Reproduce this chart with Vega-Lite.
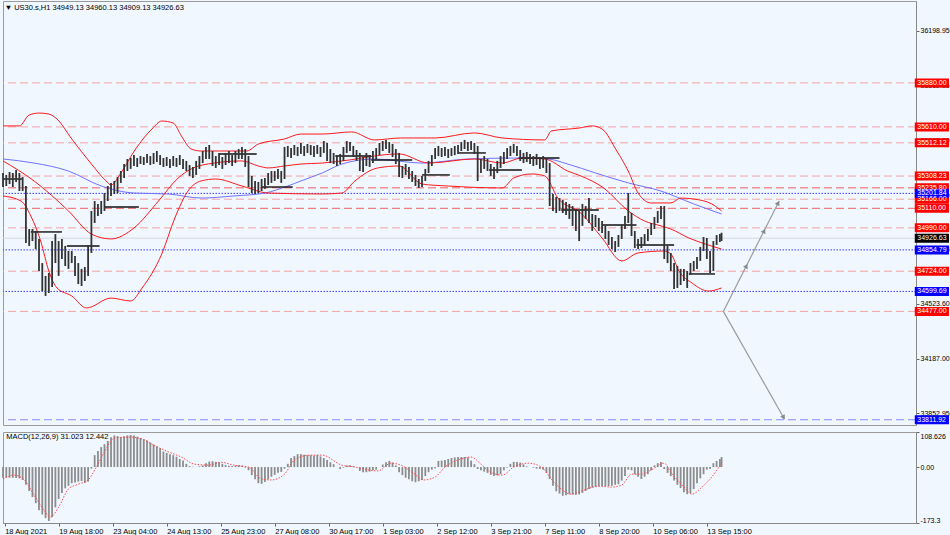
{
"$schema": "https://vega.github.io/schema/vega-lite/v6.json",
"background": "#F0F7FF",
"padding": 0,
"spacing": 5,
"config": {"view": {"stroke": "#9a9a9a"}, "font": "Liberation Sans", "axis": {"labelFont": "Liberation Sans", "labelFontSize": 8, "labelColor": "#000000", "tickColor": "#666666", "domainColor": "#888888", "grid": false, "labelOverlap": false, "labelBound": false}},
"resolve": {"scale": {"x": "independent", "y": "independent"}},
"datasets": {
"bars": [
{"i":0,"h":35327,"l":35241,"m":-33},{"i":2,"h":35315,"l":35247,"m":-33},{"i":4,"h":35333,"l":35259,"m":-33},{"i":6,"h":35327,"l":35241,"m":-33},{"i":8,"h":35345,"l":35272,"m":-34},{"i":10,"h":35327,"l":35216,"m":-35},{"i":12,"h":35302,"l":35216,"m":-40},{"i":14,"h":35247,"l":34897,"m":-55},{"i":16,"h":34983,"l":34879,"m":-74},{"i":18,"h":34983,"l":34909,"m":-93},{"i":20,"h":34971,"l":34860,"m":-112},{"i":22,"h":34922,"l":34725,"m":-134},{"i":24,"h":34774,"l":34602,"m":-147},{"i":26,"h":34695,"l":34572,"m":-158},{"i":28,"h":34713,"l":34590,"m":-167},{"i":30,"h":34909,"l":34627,"m":-155},{"i":32,"h":34952,"l":34774,"m":-125},{"i":34,"h":34909,"l":34695,"m":-99},{"i":36,"h":34922,"l":34799,"m":-80},{"i":38,"h":34879,"l":34756,"m":-66},{"i":40,"h":34848,"l":34738,"m":-58},{"i":42,"h":34848,"l":34774,"m":-50},{"i":44,"h":34817,"l":34695,"m":-48},{"i":46,"h":34774,"l":34645,"m":-45},{"i":48,"h":34738,"l":34633,"m":-43},{"i":50,"h":34750,"l":34664,"m":-49},{"i":52,"h":34885,"l":34695,"m":-45},{"i":54,"h":35094,"l":34836,"m":-5},{"i":56,"h":35155,"l":35020,"m":37},{"i":58,"h":35137,"l":35063,"m":50},{"i":60,"h":35155,"l":35075,"m":62},{"i":62,"h":35204,"l":35094,"m":71},{"i":64,"h":35247,"l":35155,"m":81},{"i":66,"h":35266,"l":35186,"m":92},{"i":68,"h":35278,"l":35198,"m":98},{"i":70,"h":35302,"l":35204,"m":96},{"i":72,"h":35339,"l":35266,"m":93},{"i":74,"h":35382,"l":35296,"m":95},{"i":76,"h":35413,"l":35339,"m":98},{"i":78,"h":35419,"l":35352,"m":99},{"i":80,"h":35437,"l":35370,"m":98},{"i":82,"h":35419,"l":35364,"m":94},{"i":84,"h":35431,"l":35382,"m":90},{"i":86,"h":35425,"l":35376,"m":86},{"i":88,"h":35444,"l":35388,"m":82},{"i":90,"h":35431,"l":35376,"m":76},{"i":92,"h":35450,"l":35382,"m":70},{"i":94,"h":35462,"l":35394,"m":64},{"i":96,"h":35437,"l":35376,"m":58},{"i":98,"h":35419,"l":35364,"m":48},{"i":100,"h":35425,"l":35370,"m":44},{"i":102,"h":35413,"l":35358,"m":40},{"i":104,"h":35431,"l":35370,"m":37},{"i":106,"h":35419,"l":35364,"m":32},{"i":108,"h":35437,"l":35376,"m":25},{"i":110,"h":35413,"l":35352,"m":20},{"i":112,"h":35401,"l":35339,"m":10},{"i":114,"h":35376,"l":35309,"m":3},{"i":116,"h":35364,"l":35296,"m":1},{"i":118,"h":35401,"l":35315,"m":0},{"i":120,"h":35431,"l":35352,"m":2},{"i":122,"h":35462,"l":35388,"m":5},{"i":124,"h":35487,"l":35413,"m":12},{"i":126,"h":35499,"l":35413,"m":17},{"i":128,"h":35462,"l":35370,"m":18},{"i":130,"h":35431,"l":35358,"m":16},{"i":132,"h":35450,"l":35376,"m":15},{"i":134,"h":35425,"l":35352,"m":10},{"i":136,"h":35450,"l":35376,"m":6},{"i":138,"h":35462,"l":35388,"m":4},{"i":140,"h":35437,"l":35370,"m":3},{"i":142,"h":35462,"l":35388,"m":5},{"i":144,"h":35474,"l":35413,"m":6},{"i":146,"h":35487,"l":35413,"m":4},{"i":148,"h":35474,"l":35364,"m":-2},{"i":150,"h":35431,"l":35241,"m":-10},{"i":152,"h":35309,"l":35204,"m":-25},{"i":154,"h":35278,"l":35198,"m":-38},{"i":156,"h":35272,"l":35204,"m":-50},{"i":158,"h":35290,"l":35216,"m":-52},{"i":160,"h":35296,"l":35229,"m":-46},{"i":162,"h":35327,"l":35253,"m":-38},{"i":164,"h":35339,"l":35266,"m":-30},{"i":166,"h":35339,"l":35278,"m":-24},{"i":168,"h":35352,"l":35290,"m":-18},{"i":170,"h":35339,"l":35266,"m":-15},{"i":172,"h":35487,"l":35290,"m":-5},{"i":174,"h":35493,"l":35425,"m":10},{"i":176,"h":35480,"l":35419,"m":28},{"i":178,"h":35499,"l":35437,"m":34},{"i":180,"h":35487,"l":35431,"m":40},{"i":182,"h":35511,"l":35444,"m":40},{"i":184,"h":35493,"l":35431,"m":38},{"i":186,"h":35505,"l":35450,"m":37},{"i":188,"h":35499,"l":35437,"m":37},{"i":190,"h":35493,"l":35425,"m":36},{"i":192,"h":35499,"l":35444,"m":37},{"i":194,"h":35487,"l":35425,"m":33},{"i":196,"h":35523,"l":35450,"m":28},{"i":198,"h":35511,"l":35401,"m":22},{"i":200,"h":35474,"l":35388,"m":15},{"i":202,"h":35450,"l":35382,"m":9},{"i":204,"h":35437,"l":35370,"m":0},{"i":206,"h":35444,"l":35382,"m":-6},{"i":208,"h":35487,"l":35401,"m":-2},{"i":210,"h":35523,"l":35450,"m":5},{"i":212,"h":35517,"l":35462,"m":6},{"i":214,"h":35493,"l":35425,"m":3},{"i":216,"h":35468,"l":35401,"m":0},{"i":218,"h":35450,"l":35339,"m":-12},{"i":220,"h":35425,"l":35333,"m":-16},{"i":222,"h":35450,"l":35370,"m":-16},{"i":224,"h":35437,"l":35364,"m":-14},{"i":226,"h":35462,"l":35388,"m":-10},{"i":228,"h":35480,"l":35413,"m":-8},{"i":230,"h":35511,"l":35437,"m":0},{"i":232,"h":35523,"l":35462,"m":8},{"i":234,"h":35530,"l":35474,"m":15},{"i":236,"h":35517,"l":35450,"m":19},{"i":238,"h":35505,"l":35425,"m":14},{"i":240,"h":35474,"l":35382,"m":5},{"i":242,"h":35450,"l":35302,"m":-16},{"i":244,"h":35370,"l":35296,"m":-25},{"i":246,"h":35382,"l":35315,"m":-33},{"i":248,"h":35364,"l":35290,"m":-38},{"i":250,"h":35339,"l":35272,"m":-44},{"i":252,"h":35315,"l":35247,"m":-47},{"i":254,"h":35290,"l":35235,"m":-44},{"i":256,"h":35309,"l":35241,"m":-40},{"i":258,"h":35352,"l":35278,"m":-28},{"i":260,"h":35401,"l":35327,"m":-16},{"i":262,"h":35437,"l":35370,"m":-8},{"i":264,"h":35480,"l":35413,"m":-4},{"i":266,"h":35493,"l":35431,"m":19},{"i":268,"h":35480,"l":35425,"m":20},{"i":270,"h":35487,"l":35431,"m":22},{"i":272,"h":35474,"l":35419,"m":25},{"i":274,"h":35480,"l":35431,"m":28},{"i":276,"h":35493,"l":35437,"m":30},{"i":278,"h":35499,"l":35444,"m":31},{"i":280,"h":35517,"l":35462,"m":31},{"i":282,"h":35530,"l":35474,"m":31},{"i":284,"h":35517,"l":35462,"m":30},{"i":286,"h":35523,"l":35468,"m":20},{"i":288,"h":35511,"l":35444,"m":9},{"i":290,"h":35493,"l":35278,"m":-6},{"i":292,"h":35413,"l":35327,"m":-10},{"i":294,"h":35431,"l":35352,"m":-14},{"i":296,"h":35413,"l":35339,"m":-18},{"i":298,"h":35382,"l":35309,"m":-24},{"i":300,"h":35364,"l":35290,"m":-28},{"i":302,"h":35401,"l":35327,"m":-26},{"i":304,"h":35431,"l":35358,"m":-22},{"i":306,"h":35456,"l":35382,"m":-10},{"i":308,"h":35480,"l":35413,"m":-2},{"i":310,"h":35493,"l":35431,"m":10},{"i":312,"h":35505,"l":35450,"m":16},{"i":314,"h":35493,"l":35431,"m":16},{"i":316,"h":35468,"l":35401,"m":14},{"i":318,"h":35450,"l":35388,"m":8},{"i":320,"h":35456,"l":35394,"m":2},{"i":322,"h":35444,"l":35382,"m":0},{"i":324,"h":35431,"l":35370,"m":-2},{"i":326,"h":35444,"l":35376,"m":-5},{"i":328,"h":35425,"l":35352,"m":-6},{"i":330,"h":35431,"l":35358,"m":-8},{"i":332,"h":35413,"l":35327,"m":-18},{"i":334,"h":35388,"l":35124,"m":-37},{"i":336,"h":35198,"l":35094,"m":-58},{"i":338,"h":35180,"l":35081,"m":-75},{"i":340,"h":35173,"l":35094,"m":-82},{"i":342,"h":35161,"l":35081,"m":-89},{"i":344,"h":35149,"l":35069,"m":-87},{"i":346,"h":35137,"l":35045,"m":-84},{"i":348,"h":35124,"l":35002,"m":-85},{"i":350,"h":35106,"l":34971,"m":-86},{"i":352,"h":35094,"l":34909,"m":-85},{"i":354,"h":35137,"l":35002,"m":-80},{"i":356,"h":35124,"l":35045,"m":-74},{"i":358,"h":35173,"l":35020,"m":-68},{"i":360,"h":35075,"l":34971,"m":-64},{"i":362,"h":35069,"l":34995,"m":-61},{"i":364,"h":35051,"l":34971,"m":-60},{"i":366,"h":35032,"l":34959,"m":-59},{"i":368,"h":35002,"l":34922,"m":-59},{"i":370,"h":34971,"l":34885,"m":-59},{"i":372,"h":34934,"l":34860,"m":-58},{"i":374,"h":34909,"l":34842,"m":-55},{"i":376,"h":34946,"l":34873,"m":-53},{"i":378,"h":35008,"l":34922,"m":-42},{"i":380,"h":35063,"l":34983,"m":-28},{"i":382,"h":35204,"l":35020,"m":-8},{"i":384,"h":35081,"l":34940,"m":-10},{"i":386,"h":34971,"l":34866,"m":-22},{"i":388,"h":34922,"l":34860,"m":-30},{"i":390,"h":34934,"l":34866,"m":-37},{"i":392,"h":34952,"l":34885,"m":-30},{"i":394,"h":34983,"l":34909,"m":-22},{"i":396,"h":35020,"l":34946,"m":-10},{"i":398,"h":35057,"l":34983,"m":5},{"i":400,"h":35094,"l":35020,"m":12},{"i":402,"h":35124,"l":35045,"m":16},{"i":404,"h":35124,"l":34799,"m":-6},{"i":406,"h":34879,"l":34774,"m":-18},{"i":408,"h":34836,"l":34725,"m":-28},{"i":410,"h":34774,"l":34615,"m":-42},{"i":412,"h":34756,"l":34621,"m":-55},{"i":414,"h":34738,"l":34639,"m":-65},{"i":416,"h":34738,"l":34664,"m":-78},{"i":418,"h":34725,"l":34621,"m":-84},{"i":420,"h":34774,"l":34701,"m":-80},{"i":422,"h":34787,"l":34725,"m":-68},{"i":424,"h":34811,"l":34738,"m":-50},{"i":426,"h":34873,"l":34787,"m":-35},{"i":428,"h":34934,"l":34848,"m":-22},{"i":430,"h":34928,"l":34799,"m":-8},{"i":432,"h":34848,"l":34713,"m":-6},{"i":434,"h":34909,"l":34725,"m":12},{"i":436,"h":34946,"l":34885,"m":19},{"i":438,"h":34952,"l":34903,"m":25},{"i":439,"h":34960.13,"l":34909.13,"m":31.023}
],
"signal": [
{"i":0,"s":-37},{"i":7,"s":-25},{"i":13,"s":-40},{"i":19,"s":-87},{"i":25,"s":-133},{"i":29,"s":-155},{"i":34,"s":-124},{"i":40,"s":-68},{"i":46,"s":-53},{"i":52,"s":-40},{"i":57,"s":0},{"i":62,"s":47},{"i":68,"s":90},{"i":77,"s":93},{"i":85,"s":87},{"i":92,"s":68},{"i":101,"s":47},{"i":109,"s":31},{"i":117,"s":9},{"i":126,"s":6},{"i":133,"s":15},{"i":141,"s":6},{"i":150,"s":0},{"i":158,"s":-37},{"i":164,"s":-40},{"i":172,"s":-22},{"i":178,"s":22},{"i":187,"s":37},{"i":195,"s":37},{"i":207,"s":6},{"i":215,"s":0},{"i":223,"s":-9},{"i":229,"s":-12},{"i":237,"s":12},{"i":243,"s":6},{"i":250,"s":-16},{"i":257,"s":-40},{"i":264,"s":-31},{"i":270,"s":0},{"i":278,"s":22},{"i":286,"s":31},{"i":292,"s":9},{"i":298,"s":-16},{"i":305,"s":-25},{"i":312,"s":0},{"i":321,"s":12},{"i":329,"s":0},{"i":335,"s":-37},{"i":341,"s":-68},{"i":347,"s":-84},{"i":355,"s":-71},{"i":364,"s":-59},{"i":372,"s":-62},{"i":378,"s":-56},{"i":384,"s":-22},{"i":390,"s":-22},{"i":396,"s":-9},{"i":404,"s":12},{"i":408,"s":-16},{"i":416,"s":-62},{"i":421,"s":-84},{"i":427,"s":-62},{"i":433,"s":-31},{"i":439,"s":12.442}
],
"bands": [
{"b":"up","i":0,"v":35616},{"b":"up","i":10,"v":35616},{"b":"up","i":16,"v":35683},{"b":"up","i":22,"v":35695},{"b":"up","i":28,"v":35689},{"b":"up","i":33,"v":35658},{"b":"up","i":42,"v":35536},{"b":"up","i":54,"v":35382},{"b":"up","i":63,"v":35278},{"b":"up","i":66,"v":35253},{"b":"up","i":72,"v":35327},{"b":"up","i":81,"v":35474},{"b":"up","i":91,"v":35597},{"b":"up","i":97,"v":35646},{"b":"up","i":104,"v":35634},{"b":"up","i":109,"v":35554},{"b":"up","i":115,"v":35474},{"b":"up","i":121,"v":35462},{"b":"up","i":133,"v":35462},{"b":"up","i":149,"v":35462},{"b":"up","i":156,"v":35505},{"b":"up","i":172,"v":35536},{"b":"up","i":182,"v":35566},{"b":"up","i":195,"v":35566},{"b":"up","i":213,"v":35579},{"b":"up","i":227,"v":35530},{"b":"up","i":243,"v":35542},{"b":"up","i":264,"v":35542},{"b":"up","i":288,"v":35573},{"b":"up","i":305,"v":35542},{"b":"up","i":331,"v":35530},{"b":"up","i":335,"v":35585},{"b":"up","i":352,"v":35603},{"b":"up","i":360,"v":35616},{"b":"up","i":366,"v":35597},{"b":"up","i":375,"v":35462},{"b":"up","i":382,"v":35339},{"b":"up","i":388,"v":35204},{"b":"up","i":396,"v":35143},{"b":"up","i":408,"v":35143},{"b":"up","i":414,"v":35173},{"b":"up","i":422,"v":35167},{"b":"up","i":433,"v":35137},{"b":"up","i":439,"v":35094},
{"b":"mid","i":0,"v":35401},{"b":"mid","i":19,"v":35278},{"b":"mid","i":40,"v":35094},{"b":"mid","i":54,"v":34952},{"b":"mid","i":66,"v":34922},{"b":"mid","i":80,"v":34989},{"b":"mid","i":95,"v":35155},{"b":"mid","i":107,"v":35296},{"b":"mid","i":115,"v":35352},{"b":"mid","i":129,"v":35388},{"b":"mid","i":146,"v":35401},{"b":"mid","i":156,"v":35370},{"b":"mid","i":162,"v":35358},{"b":"mid","i":172,"v":35370},{"b":"mid","i":182,"v":35382},{"b":"mid","i":195,"v":35388},{"b":"mid","i":207,"v":35401},{"b":"mid","i":242,"v":35444},{"b":"mid","i":260,"v":35388},{"b":"mid","i":288,"v":35413},{"b":"mid","i":305,"v":35388},{"b":"mid","i":317,"v":35419},{"b":"mid","i":331,"v":35413},{"b":"mid","i":345,"v":35339},{"b":"mid","i":353,"v":35309},{"b":"mid","i":367,"v":35235},{"b":"mid","i":382,"v":35094},{"b":"mid","i":392,"v":35032},{"b":"mid","i":402,"v":35002},{"b":"mid","i":408,"v":34983},{"b":"mid","i":419,"v":34928},{"b":"mid","i":429,"v":34891},{"b":"mid","i":439,"v":34860},
{"b":"lo","i":0,"v":35186},{"b":"lo","i":11,"v":35155},{"b":"lo","i":17,"v":35063},{"b":"lo","i":23,"v":34909},{"b":"lo","i":28,"v":34725},{"b":"lo","i":33,"v":34621},{"b":"lo","i":42,"v":34572},{"b":"lo","i":51,"v":34498},{"b":"lo","i":66,"v":34559},{"b":"lo","i":78,"v":34541},{"b":"lo","i":85,"v":34621},{"b":"lo","i":97,"v":34830},{"b":"lo","i":105,"v":35051},{"b":"lo","i":113,"v":35216},{"b":"lo","i":121,"v":35278},{"b":"lo","i":130,"v":35290},{"b":"lo","i":146,"v":35247},{"b":"lo","i":162,"v":35204},{"b":"lo","i":195,"v":35198},{"b":"lo","i":207,"v":35204},{"b":"lo","i":215,"v":35278},{"b":"lo","i":229,"v":35358},{"b":"lo","i":242,"v":35370},{"b":"lo","i":256,"v":35259},{"b":"lo","i":272,"v":35247},{"b":"lo","i":305,"v":35235},{"b":"lo","i":312,"v":35296},{"b":"lo","i":323,"v":35321},{"b":"lo","i":331,"v":35309},{"b":"lo","i":339,"v":35173},{"b":"lo","i":353,"v":35081},{"b":"lo","i":366,"v":34928},{"b":"lo","i":378,"v":34787},{"b":"lo","i":388,"v":34836},{"b":"lo","i":404,"v":34848},{"b":"lo","i":408,"v":34830},{"b":"lo","i":413,"v":34725},{"b":"lo","i":421,"v":34651},{"b":"lo","i":431,"v":34602},{"b":"lo","i":439,"v":34621}
],
"ma": [
{"i":0,"v":35413},{"i":19,"v":35388},{"i":40,"v":35339},{"i":60,"v":35247},{"i":80,"v":35204},{"i":101,"v":35198},{"i":121,"v":35173},{"i":141,"v":35186},{"i":160,"v":35204},{"i":174,"v":35247},{"i":182,"v":35278},{"i":195,"v":35327},{"i":207,"v":35382},{"i":227,"v":35413},{"i":256,"v":35388},{"i":284,"v":35413},{"i":317,"v":35419},{"i":333,"v":35413},{"i":345,"v":35382},{"i":362,"v":35327},{"i":382,"v":35266},{"i":402,"v":35216},{"i":422,"v":35137},{"i":439,"v":35075}
],
"segs": [
{"a":0,"b":12,"v":35290},{"a":17,"b":36,"v":34965},{"a":39,"b":59,"v":34879},{"a":62,"b":83,"v":35118},{"a":132,"b":155,"v":35444},{"a":158,"b":177,"v":35241},{"a":203,"b":225,"v":35431},{"a":225,"b":250,"v":35407},{"a":256,"b":273,"v":35315},{"a":278,"b":295,"v":35450},{"a":297,"b":317,"v":35345},{"a":315,"b":340,"v":35419},{"a":341,"b":364,"v":35100},{"a":366,"b":387,"v":35008},{"a":387,"b":410,"v":34885},{"a":419,"b":435,"v":34707}
],
"levels": [
{"v":35880,"k":"r"},{"v":35610,"k":"r"},{"v":35512.12,"k":"r"},{"v":35308.23,"k":"r"},{"v":35235.8,"k":"R"},{"v":35166,"k":"r"},{"v":35110,"k":"R"},{"v":34990,"k":"r"},{"v":34724,"k":"r"},{"v":34477,"k":"r"},{"v":35201.84,"k":"b"},{"v":34854.79,"k":"b"},{"v":34599.69,"k":"b"},{"v":33811.92,"k":"B"},{"v":34926.63,"k":"c"}
],
"arrows": [
{"a":"up","i":440.1,"v":34477},{"a":"up","i":474.2,"v":35155},{"a":"dn","i":440.1,"v":34477},{"a":"dn","i":477.4,"v":33816}
],
"headsUp": [{"i":454.2,"v":34756},{"i":465,"v":34971},{"i":473.6,"v":35143}],
"headsDn": [{"i":476.9,"v":33826}]
},
"vconcat": [
{
"width": 913,
"height": 424,
"layer": [
{"data": {"name": "levels"}, "transform": [{"filter": "datum.k == 'r'"}], "mark": {"type": "rule", "color": "#f4a3a3", "strokeDash": [8, 4], "strokeWidth": 1},
 "encoding": {"y": {"field": "v", "type": "quantitative", "title": null, "scale": {"domain": [33779.6, 36383], "nice": false, "zero": false},
 "axis": {"orient": "right", "values": [36198.95, 36030.65, 35862.35, 35696.6, 35528.3, 35360, 35191.7, 35025.95, 34857.65, 34691.9, 34523.6, 34355.3, 34187, 34021.25, 33852.95], "format": ".2f", "tickSize": 3, "labelPadding": 1, "labelFontSize": 7, "title": null}}}},
{"data": {"name": "levels"}, "transform": [{"filter": "datum.k == 'R'"}], "mark": {"type": "rule", "color": "#f06060", "strokeDash": [8, 4], "strokeWidth": 1},
 "encoding": {"y": {"field": "v", "type": "quantitative", "title": null}}},
{"data": {"name": "levels"}, "transform": [{"filter": "datum.k == 'b'"}], "mark": {"type": "rule", "color": "#3c3cff", "strokeDash": [1.5, 1.5], "strokeWidth": 1},
 "encoding": {"y": {"field": "v", "type": "quantitative", "title": null}}},
{"data": {"name": "levels"}, "transform": [{"filter": "datum.k == 'B'"}], "mark": {"type": "rule", "color": "#8a8aff", "strokeDash": [8, 4], "strokeWidth": 1},
 "encoding": {"y": {"field": "v", "type": "quantitative", "title": null}}},
{"data": {"name": "levels"}, "transform": [{"filter": "datum.k == 'c'"}], "mark": {"type": "rule", "color": "#d4d8de", "strokeWidth": 1},
 "encoding": {"y": {"field": "v", "type": "quantitative", "title": null}}},
{"data": {"name": "ma"}, "mark": {"type": "line", "color": "#7272ff", "strokeWidth": 1, "interpolate": "monotone"},
 "encoding": {"x": {"field": "i", "type": "quantitative", "scale": {"domain": [0, 557.8], "nice": false, "zero": false}, "axis": null}, "y": {"field": "v", "type": "quantitative", "title": null}}},
{"data": {"name": "bands"}, "mark": {"type": "line", "color": "#ff1a1a", "strokeWidth": 1, "interpolate": "monotone"},
 "encoding": {"x": {"field": "i", "type": "quantitative", "scale": {"domain": [0, 557.8], "nice": false, "zero": false}, "axis": null}, "y": {"field": "v", "type": "quantitative", "title": null}, "detail": {"field": "b"}}},
{"data": {"name": "segs"}, "mark": {"type": "rule", "color": "#111111", "strokeWidth": 1.4},
 "encoding": {"x": {"field": "a", "type": "quantitative", "scale": {"domain": [0, 557.8], "nice": false, "zero": false}, "axis": null}, "x2": {"field": "b"}, "y": {"field": "v", "type": "quantitative", "title": null}}},
{"data": {"name": "bars"}, "mark": {"type": "rule", "color": "#333333", "strokeWidth": 1.8},
 "encoding": {"x": {"field": "i", "type": "quantitative", "scale": {"domain": [0, 557.8], "nice": false, "zero": false}, "axis": null}, "y": {"field": "l", "type": "quantitative", "title": null}, "y2": {"field": "h"}}},
{"data": {"name": "arrows"}, "mark": {"type": "line", "color": "#9a9a9a", "strokeWidth": 1.2},
 "encoding": {"x": {"field": "i", "type": "quantitative", "scale": {"domain": [0, 557.8], "nice": false, "zero": false}, "axis": null}, "y": {"field": "v", "type": "quantitative", "title": null}, "detail": {"field": "a"}}},
{"data": {"name": "headsUp"}, "mark": {"type": "point", "shape": "triangle-up", "filled": true, "color": "#8a8a8a", "size": 28, "angle": 27, "opacity": 1},
 "encoding": {"x": {"field": "i", "type": "quantitative", "scale": {"domain": [0, 557.8], "nice": false, "zero": false}, "axis": null}, "y": {"field": "v", "type": "quantitative", "title": null}}},
{"data": {"name": "headsDn"}, "mark": {"type": "point", "shape": "triangle-up", "filled": true, "color": "#8a8a8a", "size": 28, "angle": 150, "opacity": 1},
 "encoding": {"x": {"field": "i", "type": "quantitative", "scale": {"domain": [0, 557.8], "nice": false, "zero": false}, "axis": null}, "y": {"field": "v", "type": "quantitative", "title": null}}},
{"data": {"name": "levels"}, "mark": {"type": "point", "shape": "M-1.9,-0.5H1.9V0.5H-1.9Z", "filled": true, "size": 324, "opacity": 1},
 "encoding": {"x": {"datum": 567.5}, "y": {"field": "v", "type": "quantitative", "title": null},
 "color": {"field": "k", "type": "nominal", "legend": null, "scale": {"domain": ["r", "R", "b", "B", "c"], "range": ["#ff0000", "#ff0000", "#0000ff", "#0000ff", "#000000"]}}}},
{"data": {"name": "levels"}, "mark": {"type": "text", "align": "left", "baseline": "middle", "fontSize": 7, "color": "#ffffff", "dx": 1},
 "encoding": {"x": {"datum": 558}, "y": {"field": "v", "type": "quantitative", "title": null}, "text": {"field": "v", "format": ".2f"}}},
{"data": {"values": [{"t": "▼ US30.s,H1  34949.13 34960.13 34909.13 34926.63"}]}, "mark": {"type": "text", "align": "left", "baseline": "middle", "fontSize": 7.5, "color": "#000000"},
 "encoding": {"x": {"datum": 1}, "y": {"datum": 36337}, "text": {"field": "t"}}}
]
},
{
"width": 913,
"height": 91,
"layer": [
{"data": {"name": "bars"}, "mark": {"type": "rule", "color": "#8c8c8c", "strokeWidth": 1.8},
 "encoding": {
 "x": {"field": "i", "type": "quantitative", "title": null, "scale": {"domain": [0, 557.8], "nice": false, "zero": false},
  "axis": {"orient": "bottom", "values": [1, 34, 67, 100, 133, 166, 199, 232, 265, 298, 331, 364, 397, 430], "labelExpr": "['18 Aug 2021','19 Aug 18:00','23 Aug 04:00','24 Aug 13:00','25 Aug 23:00','27 Aug 08:00','30 Aug 17:00','1 Sep 03:00','2 Sep 12:00','3 Sep 21:00','7 Sep 11:00','8 Sep 20:00','10 Sep 06:00','13 Sep 15:00'][round((datum.value-1)/33)]", "labelAlign": "left", "labelFlush": false, "tickSize": 3, "labelPadding": 1, "labelFontSize": 7.5, "title": null}},
 "y": {"field": "m", "type": "quantitative", "title": null, "scale": {"domain": [-173.3, 108.626], "nice": false, "zero": false},
  "axis": {"orient": "right", "values": [108.626, 0, -173.3], "labelExpr": "datum.value == 0 ? '0.00' : (datum.value > 0 ? '108.626' : '-173.3')", "labelFlush": true, "tickSize": 3, "labelPadding": 1, "labelFontSize": 7, "title": null}},
 "y2": {"datum": 0}}},
{"data": {"name": "signal"}, "mark": {"type": "line", "color": "#ff4a4a", "strokeDash": [1.5, 1.5], "strokeWidth": 1, "interpolate": "monotone"},
 "encoding": {"x": {"field": "i", "type": "quantitative"}, "y": {"field": "s", "type": "quantitative", "title": null}}},
{"data": {"values": [{"t": "MACD(12,26,9) 31.023 12.442"}]}, "mark": {"type": "text", "align": "left", "baseline": "middle", "fontSize": 7.5, "color": "#000000"},
 "encoding": {"x": {"datum": 2}, "y": {"datum": 92}, "text": {"field": "t"}}}
]
}
]
}
